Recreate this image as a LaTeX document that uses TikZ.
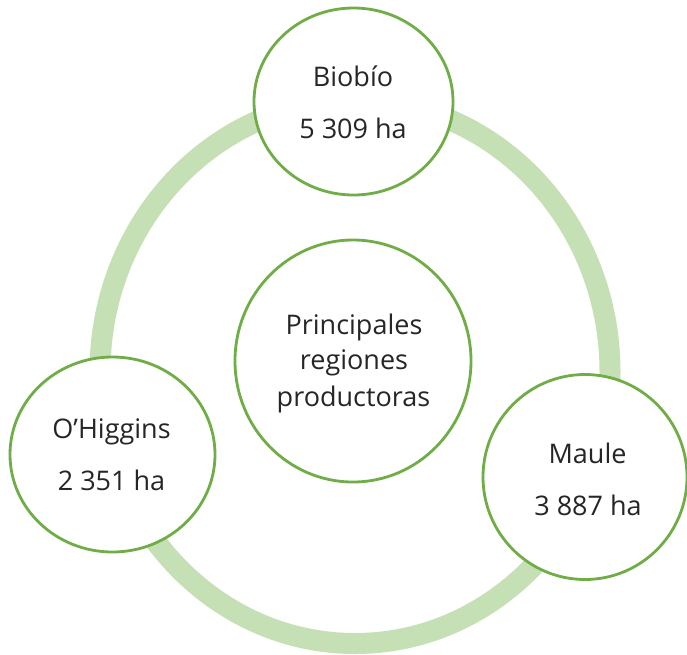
\documentclass[tikz,border=0pt]{standalone}
\usepackage{fontspec}
\setmainfont{Open Sans}
\usetikzlibrary{shapes.geometric}
\definecolor{ringgreen}{HTML}{C5E0B4}
\definecolor{edgegreen}{HTML}{70AD47}
\definecolor{txt}{HTML}{262626}
\begin{document}
\begin{tikzpicture}[x=1pt,y=-1pt,
  bubble/.style={ellipse, draw=edgegreen, line width=2.8pt, fill=white, inner sep=0pt},
  lbl/.style={anchor=base, inner sep=0pt, text=txt, font=\fontsize{27}{32}\selectfont}]
\useasboundingbox (0,0) rectangle (687,654);
\fill[white] (0,0) rectangle (687,654);
\node[ellipse, draw=ringgreen, line width=21pt, minimum width=510pt, minimum height=543pt, inner sep=0pt] (ring) at (355,372) {};
\node[bubble, minimum width=199pt, minimum height=187pt] (bio) at (353.5,101.5) {};
\node[bubble, minimum width=205pt, minimum height=195pt] (ohig) at (112.5,454.5) {};
\node[bubble, minimum width=204pt, minimum height=205pt] (maule) at (585,477) {};
\node[bubble, minimum width=236pt, minimum height=242pt] (cent) at (353,361) {};
\node[lbl] (bioname) at (353,86) {Biobío};
\node[lbl] (bioval) at (353,138) {5 309 ha};
\node[lbl] (ohigname) at (111.5,438) {O’Higgins};
\node[lbl] (ohigval) at (111.5,490) {2 351 ha};
\node[lbl] (maulename) at (587.5,463) {Maule};
\node[lbl] (mauleval) at (588,515) {3 887 ha};
\node[lbl] (c1) at (354,334) {Principales};
\node[lbl] (c2) at (354,369) {regiones};
\node[lbl] (c3) at (353.5,406) {productoras};
\end{tikzpicture}
\end{document}
